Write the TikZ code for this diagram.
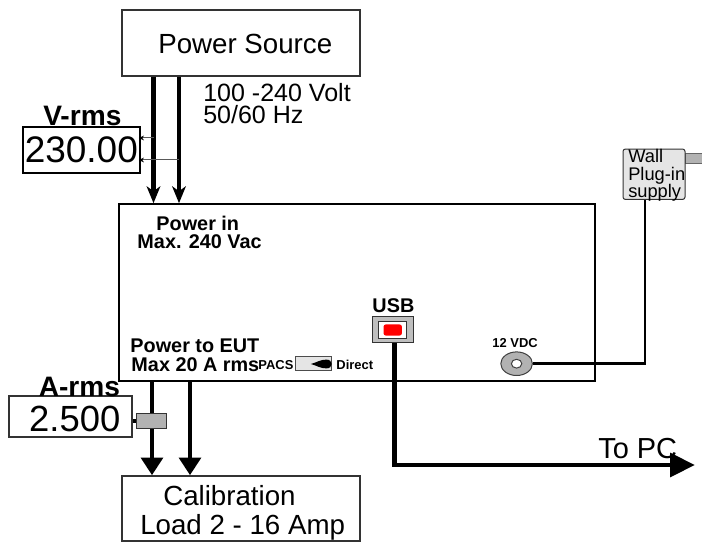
\documentclass[tikz,border=0pt]{standalone}
\usepackage{fontspec}
\setmainfont{Liberation Sans}
\usetikzlibrary{calc,arrows.meta,shapes.geometric}
\newcommand{\fsize}[1]{\fontsize{#1}{#1}\selectfont}
\tikzset{
box/.style={draw=black!80,rectangle,fill=white,line width=0.35mm,inner sep=0pt},
lbl/.style={anchor=base west,inner sep=0pt,text=black},
bold/.style={lbl,font=\fsize{14.1}\bfseries},
small/.style={lbl,font=\fsize{9.2}\bfseries},
powerin/.style={line width=1.1mm,-{Stealth[length=4.2mm,width=3.4mm,inset=1.2mm]}},
powerout/.style={line width=1.05mm,-{Triangle[length=4.4mm,width=5.4mm]}},
sense/.style={draw=black!65,line width=0.25mm,-{Stealth[length=1.3mm,width=1.2mm,black]}},
}
\begin{document}
\begin{tikzpicture}
\useasboundingbox (0,0) rectangle (175.5mm,-135.5mm);

\draw node [box,minimum width=59.5mm,minimum height=16.5mm](source) at (60.25mm,-10.75mm){};
\draw node [box,draw=black,line width=0.4mm,minimum width=119mm,minimum height=44.25mm](meter) at (89.25mm,-73.125mm){};
\draw node [box,draw=black,line width=0.4mm,minimum width=29.25mm,minimum height=11.5mm](vrms) at (20.375mm,-37.5mm){};
\draw node [box,minimum width=30.75mm,minimum height=10.25mm](arms) at (17.625mm,-104.125mm){};
\draw node [box,minimum width=59.5mm,minimum height=16.25mm](load) at (60.25mm,-127.1mm){};

\node [lbl,font=\fsize{19.7}](lblsource) at ($ (source.center)+(-20.75mm,-2.75mm)$){Power Source};
\node [lbl,font=\fsize{17.8}](lblvolt) at ($ (source.south)+(-9.5mm,-6.25mm)$){100 -240 Volt};
\node [lbl,font=\fsize{17.8}](lblhz) at ($ (source.south)+(-9.5mm,-11.75mm)$){50/60 Hz};
\node [lbl,font=\fsize{20}\bfseries](lblvrms) at ($ (vrms.center)+(-9.625mm,6mm)$){V-rms};
\node [lbl,font=\fsize{26.3}](valvrms) at ($ (vrms.center)+(-14.25mm,-3.25mm)$){230.00};
\node [lbl,font=\fsize{20}\bfseries](lblarms) at ($ (arms.center)+(-8mm,5mm)$){A-rms};
\node [lbl,font=\fsize{25.9}](valarms) at ($ (arms.center)+(-10.4mm,-3.7mm)$){2.500};

\coordinate (linein) at ($ (source.south)-(21.875mm,0mm)$);
\coordinate (neutralin) at ($ (source.south)-(15.5mm,0mm)$);
\draw[powerin] (linein) -- (linein |- meter.north);
\draw[powerin] (neutralin) -- (neutralin |- meter.north);
\coordinate (vrmstop) at ($ (vrms.east)+(-0.5mm,3mm)$);
\coordinate (vrmsbot) at ($ (vrms.east)+(-0.5mm,-2.5mm)$);
\draw[sense] (linein |- vrmstop) -- (vrmstop);
\draw[sense] (neutralin |- vrmsbot) -- (vrmsbot);

\coordinate (lineout) at ($ (meter.south)-(51.25mm,0mm)$);
\coordinate (neutralout) at ($ (meter.south)-(41.75mm,0mm)$);
\draw[powerout] (lineout) -- (lineout |- load.north);
\draw[powerout] (neutralout) -- (neutralout |- load.north);
\draw node [draw=black!80,rectangle,fill=black!30,line width=0.25mm,inner sep=0pt,minimum width=7.4mm,minimum height=3.9mm](sensor) at (37.9mm,-105.25mm){};
\draw[line width=1mm] (arms.east |- sensor.west) -- (sensor.west);

\node [bold](lblpowerin) at ($ (meter.west)+(9.5mm,15.4mm)$){Power in};
\node [bold](lblmaxin) at ($ (meter.west)+(4.75mm,11.1mm)$){Max. 240 Vac};
\node [bold](lblpowerout) at ($ (meter.west)+(3mm,-15.125mm)$){Power to EUT};
\node [bold](lblmaxout) at ($ (meter.west)+(3.25mm,-19.875mm)$){Max 20 A rms};
\node [small](lblpacs) at ($ (meter.west)+(35mm,-19.375mm)$){PACS};
\node [small](lbldirect) at ($ (meter.west)+(54.5mm,-19.375mm)$){Direct};
\node [small](lblvdc) at ($ (meter.west)+(93.5mm,-13.875mm)$){12 VDC};
\node [bold](lblusb) at ($ (meter.west)+(63.5mm,-5.125mm)$){USB};

\draw node [draw=black!70,rectangle,fill=black!10,line width=0.25mm,inner sep=0pt,minimum width=9mm,minimum height=3.5mm](switch) at ($ (meter.west)+(48.75mm,-17.875mm)$){};
\fill ($ (switch.east)+(-5.2mm,0mm)$) .. controls +(1.7mm,0.5mm) and +(-1.5mm,0mm) .. ++(3.9mm,1.1mm) .. controls +(0.8mm,0mm) and +(0mm,0.6mm) .. ++(1.3mm,-1.1mm) .. controls +(0mm,-0.6mm) and +(0.8mm,0mm) .. ++(-1.3mm,-1.1mm) .. controls +(-1.5mm,0mm) and +(1.7mm,-0.5mm) .. cycle;

\draw node [box,fill=black!25,line width=0.25mm,minimum width=10.25mm,minimum height=6.5mm](usb) at ($ (meter.west)+(68.625mm,-9.375mm)$){};
\draw node [box,line width=0.25mm,minimum width=6.9mm,minimum height=4.2mm](usbport) at (usb.center){};
\draw node [rectangle,rounded corners=0.6mm,fill=red,inner sep=0pt,minimum width=4.6mm,minimum height=2.8mm](usbled) at (usb.center){};
\coordinate (topc) at (173.75mm,-116.25mm);
\coordinate (usbout) at ($ (usb.south)+(0.35mm,0mm)$);
\draw[line width=1.2mm,-{Triangle[length=6.2mm,width=5.8mm]}] (usbout) |- (topc);
\node [lbl,font=\fsize{20.6}](lbltopc) at ($ (topc)+(-24.25mm,1.75mm)$){To PC};

\draw node [ellipse,draw=black!75,fill=black!30,line width=0.25mm,inner sep=0pt,minimum width=7.9mm,minimum height=5.9mm](jack) at ($ (meter.west)+(99.6mm,-17.8mm)$){};
\draw node [ellipse,draw=black!75,fill=white,line width=0.25mm,inner sep=0pt,minimum width=2.6mm,minimum height=2.2mm](jackhole) at (jack.center){};

\draw node [rectangle,fill=black!30,draw=black!60,line width=0.15mm,inner sep=0pt,minimum width=4.5mm,minimum height=2.5mm](prong) at (173.5mm,-39.5mm){};
\draw node [draw=black!80,rectangle,rounded corners=0.6mm,fill=black!10,line width=0.25mm,inner sep=0pt,minimum width=15.5mm,minimum height=12.6mm](wall) at (163.5mm,-43.5625mm){};
\node [lbl,font=\fsize{13}](lblwall) at ($ (wall.center)+(-6.5mm,2.8125mm)$){Wall};
\node [lbl,font=\fsize{13}](lblplug) at ($ (wall.center)+(-6.5mm,-1.6875mm)$){Plug-in};
\node [lbl,font=\fsize{13}](lblsupply) at ($ (wall.center)+(-6.5mm,-5.9375mm)$){supply};
\coordinate (wallout) at ($ (wall.south)-(2.25mm,0mm)$);
\draw[line width=0.6mm] (jack.east) -| (wallout);

\node [lbl,font=\fsize{19.7}](lblcal) at ($ (load.center)+(-19.5mm,0.7mm)$){Calibration};
\node [lbl,font=\fsize{19.7}](lblload) at ($ (load.center)+(-25.25mm,-6.4mm)$){Load 2 - 16 Amp};

\end{tikzpicture}
\end{document}
